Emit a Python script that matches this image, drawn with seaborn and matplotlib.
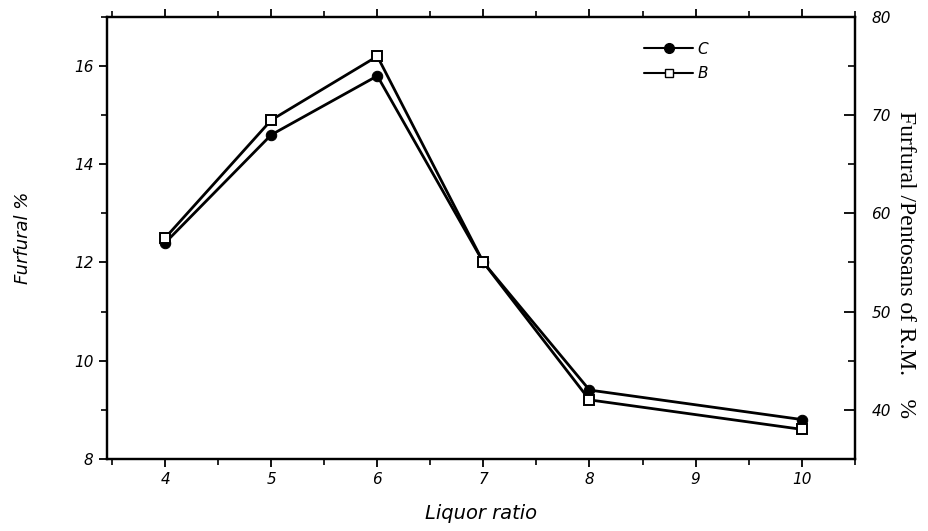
import matplotlib
matplotlib.use("Agg")
import matplotlib.pyplot as plt
import seaborn as sns
import pandas as pd
from matplotlib.ticker import MultipleLocator
from matplotlib.lines import Line2D

liquor_ratio = [4, 5, 6, 7, 8, 10]
furfural_C = [12.4, 14.6, 15.8, 12.0, 9.4, 8.8]
furfural_B = [12.5, 14.9, 16.2, 12.0, 9.2, 8.6]

sns.set_style("ticks")
plt.rcParams['font.family'] = ['DejaVu Sans']
plt.rcParams['text.color'] = 'black'
plt.rcParams['axes.labelcolor'] = 'black'
plt.rcParams['xtick.color'] = 'black'
plt.rcParams['ytick.color'] = 'black'

df = pd.DataFrame({
    "Liquor ratio": liquor_ratio * 2,
    "Furfural": furfural_C + furfural_B,
    "Series": ["C"] * len(liquor_ratio) + ["B"] * len(liquor_ratio),
})

fig = plt.figure(figsize=(9.29, 5.31), dpi=100)
ax = fig.add_axes([0.115, 0.136, 0.805, 0.832])

sns.lineplot(data=df, x="Liquor ratio", y="Furfural", hue="Series", style="Series",
             markers={"C": "o", "B": "s"}, dashes=False,
             palette={"C": "black", "B": "black"}, linewidth=2.0,
             markersize=7.5, ax=ax, legend=False)

for ln in ax.get_lines():
    if ln.get_marker() == "s":
        ln.set_markerfacecolor("white")
        ln.set_markeredgecolor("black")
        ln.set_markeredgewidth(1.4)
    else:
        ln.set_markerfacecolor("black")
        ln.set_markeredgecolor("black")

ax.set_xlim(3.45, 10.5)
ax.set_ylim(8, 17)
ax.xaxis.set_major_locator(MultipleLocator(1))
ax.xaxis.set_minor_locator(MultipleLocator(0.5))
ax.yaxis.set_major_locator(MultipleLocator(2))
ax.yaxis.set_minor_locator(MultipleLocator(1))
ax.tick_params(axis="both", which="major", direction="out", length=6, width=1.3,
               labelsize=11, colors="black")
ax.tick_params(axis="both", which="minor", direction="out", length=4, width=1.2)
ax.tick_params(axis="x", top=True, which="both")
for lab in ax.get_xticklabels() + ax.get_yticklabels():
    lab.set_fontstyle("italic")
ax.set_xlabel("Liquor ratio", fontsize=14, fontstyle="italic", labelpad=12, color="black")
ax.set_ylabel("Furfural %", fontsize=13, fontstyle="italic", labelpad=30, color="black")
for sp in ax.spines.values():
    sp.set_linewidth(1.6)
    sp.set_color("black")

ax2 = ax.twinx()
ax2.set_ylim(35, 80)
ax2.yaxis.set_major_locator(MultipleLocator(10))
ax2.yaxis.set_minor_locator(MultipleLocator(5))
ax2.tick_params(axis="y", which="major", direction="in", length=8, width=1.3,
                labelsize=11, pad=12, colors="black")
ax2.tick_params(axis="y", which="minor", direction="in", length=5, width=1.2)
for lab in ax2.get_yticklabels():
    lab.set_fontstyle("italic")
ax2.set_ylabel("Furfural /Pentosans of R.M.    %", fontsize=17, rotation=270,
               labelpad=18, family=["Liberation Serif"], color="black")
ax2.yaxis.label.set_y(0.44)
for sp in ax2.spines.values():
    sp.set_linewidth(1.6)
    sp.set_color("black")

handles = [
    Line2D([], [], color="black", marker="o", markersize=7, linewidth=1.5,
           markerfacecolor="black"),
    Line2D([], [], color="black", marker="s", markersize=6, linewidth=1.5,
           markerfacecolor="white"),
]
leg = ax.legend(handles, ["C", "B"], loc="upper left", bbox_to_anchor=(0.70, 0.975),
                frameon=False, handlelength=3.2, fontsize=11, labelspacing=0.6,
                handletextpad=0.3)
for t in leg.get_texts():
    t.set_fontstyle("italic")
    t.set_color("black")

fig.savefig("out.png", dpi=100)
